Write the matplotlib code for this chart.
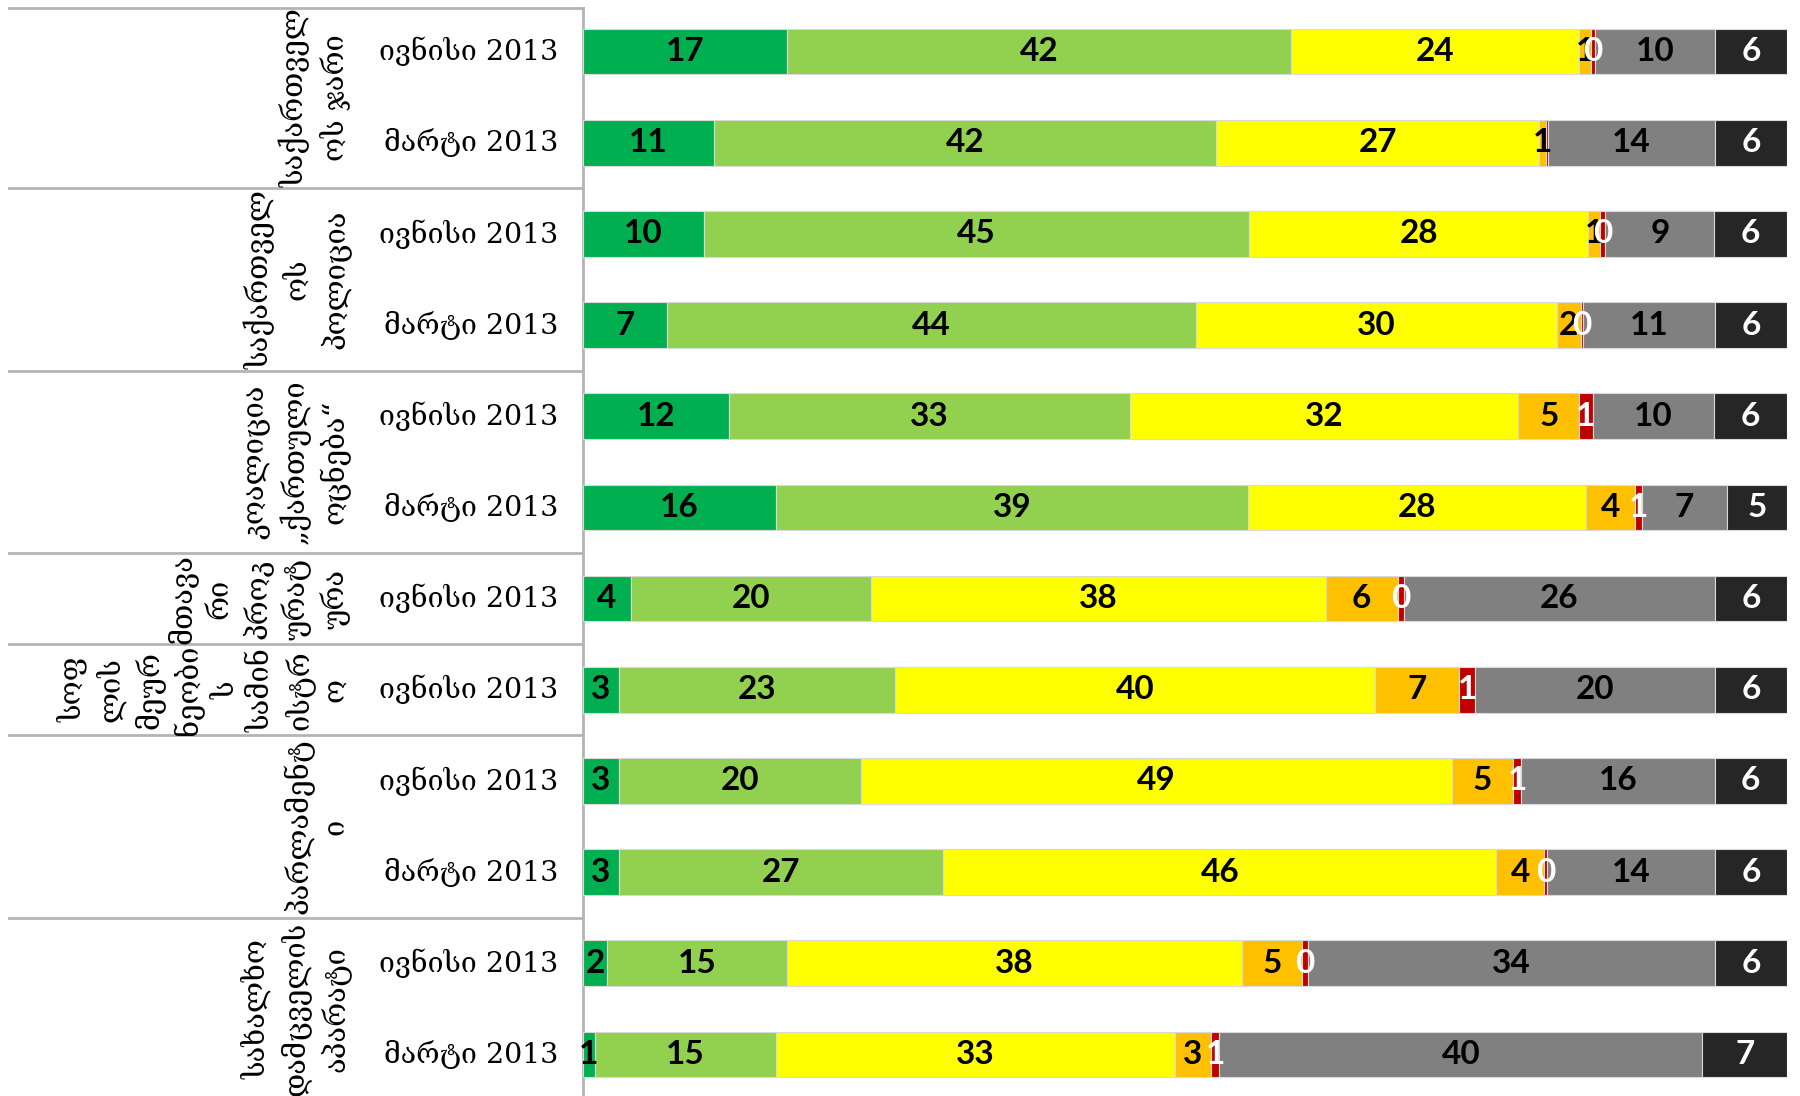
import numpy as np
import matplotlib.pyplot as plt
import matplotlib.transforms as mtransforms

# survey rows, top to bottom
row_labels = ['ივნისი 2013', 'მარტი 2013',
              'ივნისი 2013', 'მარტი 2013',
              'ივნისი 2013', 'მარტი 2013',
              'ივნისი 2013',
              'ივნისი 2013',
              'ივნისი 2013', 'მარტი 2013',
              'ივნისი 2013', 'მარტი 2013']

group_names = ['საქართველ\nოს ჯარი',
               'საქართველ\nოს\nპოლიცია',
               'კოალიცია\n„ქართული\nოცნება“',
               'მთავა\nრი\nპროკ\nურატ\nურა',
               'სოფ\nლის\nმეურ\nნეობი\nს\nსამინ\nისტრ\nო',
               'პარლამენტ\nი',
               'სახალხო\nდამცველის\nაპარატი']
group_rows = [(0, 1), (2, 3), (4, 5), (6, 6), (7, 7), (8, 9), (10, 11)]

# answer categories (left to right)
s_dark_green = [17, 11, 10, 7, 12, 16, 4, 3, 3, 3, 2, 1]
s_light_green = [42, 42, 45, 44, 33, 39, 20, 23, 20, 27, 15, 15]
s_yellow = [24, 27, 28, 30, 32, 28, 38, 40, 49, 46, 38, 33]
s_orange = [1, 0.6, 1, 2, 5, 4, 6, 7, 5, 4, 5, 3]
s_red = [0.3, 0.15, 0.4, 0.15, 1.1, 0.6, 0.5, 1.3, 0.7, 0.2, 0.45, 0.7]
s_gray = [10, 14, 9, 11, 10, 7, 26, 20, 16, 14, 34, 40]
s_dark = [6, 6, 6, 6, 6, 5, 6, 6, 6, 6, 6, 7]

series = [s_dark_green, s_light_green, s_yellow, s_orange, s_red, s_gray, s_dark]
colors = ['#00B050', '#92D050', '#FFFF00', '#FFC000', '#C00000', '#808080', '#262626']
text_colors = ['black', 'black', 'black', 'black', 'white', 'black', 'white']
hidden_labels = {(1, 4)}  # (row, series) with no label in the original

W, H = 1800, 1096
fig = plt.figure(figsize=(W / 100, H / 100), dpi=100)
ax = fig.add_axes([583 / W, 1 - 1100 / H, (1787 - 583) / W, (1100 - 6) / H])

data = np.array(series, dtype=float)
data = data / data.sum(axis=0) * 100  # 100% stacked
n = data.shape[1]
y = np.arange(n)
left = np.zeros(n)
for k in range(len(series)):
    ax.barh(y, data[k], left=left, height=0.5, color=colors[k],
            edgecolor='#d9d9d9', linewidth=0.8, zorder=2)
    for i in range(n):
        if (i, k) in hidden_labels:
            continue
        ax.text(left[i] + data[k][i] / 2, y[i], f'{round(series[k][i])}',
                ha='center', va='center', fontsize=24, fontweight='bold',
                family='Lato', color=text_colors[k], zorder=3)
    left += data[k]

ax.set_xlim(0, 100)
ax.set_ylim(n - 0.5, -0.5)
ax.axis('off')

trans = mtransforms.blended_transform_factory(ax.transAxes, ax.transData)
line_col = '#b4b4b4'
x_line = (9 - 583) / (1787 - 583)

# table grid on the left
ax.plot([0, 0], [-0.48, n - 0.5], color=line_col, lw=2, transform=trans,
        clip_on=False, zorder=1)
ax.plot([x_line, 0], [-0.48, -0.48], color=line_col, lw=2, transform=trans,
        clip_on=False)
for a, b in group_rows[:-1]:
    ax.plot([x_line, 0], [b + 0.5, b + 0.5], color=line_col, lw=2,
            transform=trans, clip_on=False)

geo_font = ['DejaVu Serif', 'DejaVu Sans']
for i, lab in enumerate(row_labels):
    ax.text((558 - 583) / 1204, i, lab, transform=trans, ha='right',
            va='center', fontsize=20.5, family=geo_font)

for name, (a, b) in zip(group_names, group_rows):
    ax.text((350 - 583) / 1204, (a + b) / 2, name, transform=trans,
            ha='right', va='center', rotation=90, fontsize=21,
            family=geo_font, multialignment='center', linespacing=1.34)

fig.savefig('out.png', dpi=100)
